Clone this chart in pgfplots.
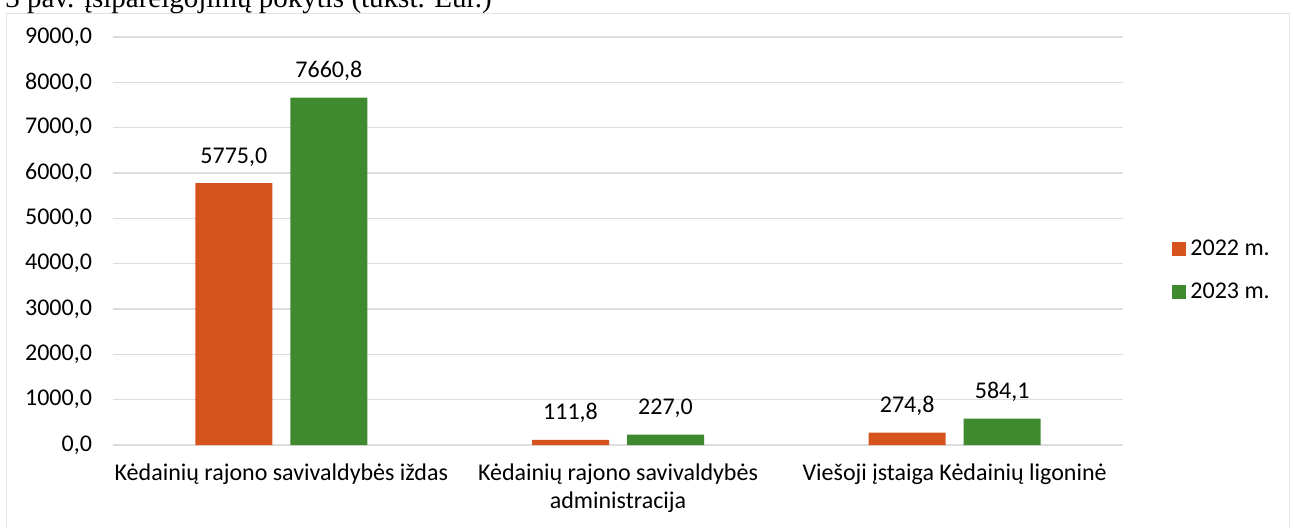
\documentclass[border=0pt]{standalone}
\usepackage{fontspec}
\setmainfont{Carlito}
\newfontfamily\serif{Liberation Serif}
\usepackage{pgfplots}
\pgfplotsset{compat=1.18}
\definecolor{orange22}{HTML}{D6531E}
\definecolor{green23}{HTML}{3F8A2F}
\definecolor{gridgray}{HTML}{DCDCDC}
\definecolor{framegray}{HTML}{E2E2E2}

\begin{document}
\begin{tikzpicture}
\begin{axis}[
    scale only axis,
    width=505pt,
    height=204pt,
    ybar=9pt,
    bar width=38.5pt,
    xmin=-0.5, xmax=2.5,
    ymin=0, ymax=9000,
    xtick={0,1,2},
    xticklabels={Kėdainių rajono savivaldybės iždas,
                 {Kėdainių rajono savivaldybės\\administracija},
                 Viešoji įstaiga Kėdainių ligoninė},
    x tick label style={align=center, yshift=-6pt},
    ytick={0,1000,...,9000},
    scaled y ticks=false,
    ymajorgrids,
    grid style={draw=gridgray, line width=0.6pt},
    axis x line*=bottom,
    axis y line*=left,
    x axis line style={draw=gridgray, line width=0.6pt},
    y axis line style={draw=none},
    major tick length=0pt,
    tick label style={font=\fontsize{12}{14}\selectfont},
    yticklabel style={xshift=-7pt},
    nodes near coords,
    nodes near coords style={font=\fontsize{12}{14}\selectfont, anchor=base, yshift=10pt},
    legend style={at={(1.0426,0.4277)}, anchor=west, draw=none, fill=none,
        font=\fontsize{12}{14}\selectfont, row sep=8pt},
    legend cell align=left,
    legend image code/.code={\fill[#1] (0pt,-3.5pt) rectangle (7pt,3.5pt);},
    /pgf/number format/assume math mode=true,
    /pgf/number format/fixed,
    /pgf/number format/fixed zerofill,
    /pgf/number format/precision=1,
    /pgf/number format/use comma,
    /pgf/number format/1000 sep={},
]
\addplot[fill=orange22, draw=none] coordinates {(0,5775.0) (1,111.8) (2,274.8)};
\addlegendentry{2022 m.}
\addplot[fill=green23, draw=none] coordinates {(0,7660.8) (1,227.0) (2,584.1)};
\addlegendentry{2023 m.}
\end{axis}
\draw[framegray] (-53.5pt,216pt) rectangle (588pt,-50pt);
\node[anchor=base west, inner sep=0pt, font=\serif\fontsize{14.5}{16}\selectfont]
    at (-54pt,219pt) {3 pav. įsipareigojimų pokytis (tūkst. Eur.)};
\pgfresetboundingbox
\useasboundingbox (-56.5pt,-41pt) rectangle (590.5pt,222.5pt);
\end{tikzpicture}
\end{document}
